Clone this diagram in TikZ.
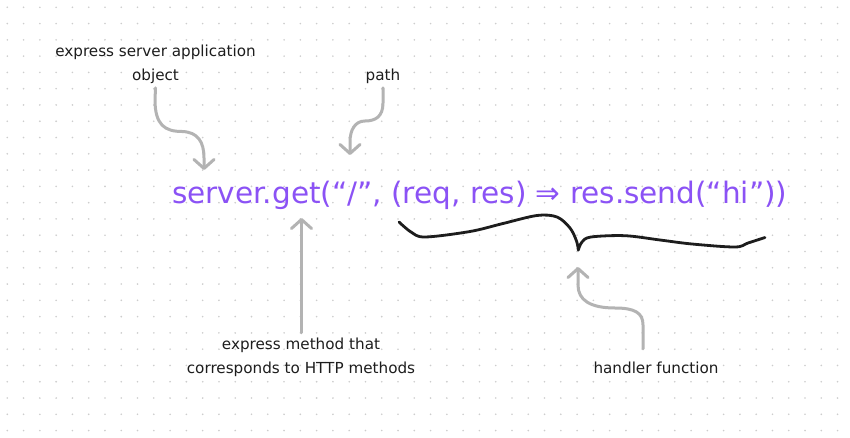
\documentclass[tikz,border=0pt]{standalone}
\usepackage{fontspec}
\setmainfont{DejaVu Sans}
\usepackage{tikz}
\usetikzlibrary{arrows.meta}
\definecolor{gridgray}{HTML}{CDCDCD}
\definecolor{inkblack}{HTML}{1D1D1D}
\definecolor{arrowgray}{HTML}{B3B3B3}
\definecolor{codeviolet}{HTML}{8B52F5}

\begin{document}
\begin{tikzpicture}[
  x=1pt, y=-1pt,
  dot/.style={fill=gridgray},
  lbl/.style={font=\fontsize{15.2}{24}\selectfont, text=inkblack, align=center, inner sep=0pt, anchor=base},
  codetxt/.style={font=\fontsize{29.5}{35}\selectfont, text=codeviolet, inner sep=0pt, anchor=base west},
  garr/.style={draw=arrowgray, line width=3pt, line cap=round, line join=round,
    -{Straight Barb[length=9pt, width=20pt, round]}},
  brace/.style={draw=inkblack, line width=2.8pt, line cap=round, line join=round}
]
  % canvas and dot grid
  \useasboundingbox[fill=white] (0,0) rectangle (850,438);
  \foreach \i in {0,...,51}
    \foreach \j in {0,...,26}
      \fill[dot] (7.3+16.28*\i, 7.3+16.28*\j) circle (0.9pt);

  % code line
  \node[codetxt] (code) at (172,203.5) {server.get(“/”, (req, res) ⇒ res.send(“hi”))};

  % labels (base = last line)
  \node[lbl] (app)     at (155.5,81)   {express server application\\object};
  \node[lbl] (path)    at (383,81)     {path};
  \node[lbl] (method)  at (301,373)    {express method that\\corresponds to HTTP methods};
  \node[lbl] (handler) at (656,373)    {handler function};

  % arrow targets
  \coordinate (objtip)  at (204,170);
  \coordinate (pathtip) at (350,155);
  \coordinate (gettip)  at (301.5,218);
  \coordinate (handtip) at (578,267);

  % gray arrows
  \draw[garr] ([yshift=-3.5pt]app.south) -- (155,100)
    .. controls (155,125) and (165,131.5) .. (182,131.5)
    .. controls (198,132) and (204,142) .. (204,158) -- (objtip);
  \draw[garr] ([yshift=-3.5pt]path.south) -- (383,103)
    .. controls (383,117) and (375,121) .. (365,121)
    .. controls (355,121) and (350,130) .. (350,142) -- (pathtip);
  \draw[garr] ([yshift=4.5pt]method.north -| gettip) -- (gettip);
  \draw[garr] ([xshift=-13pt,yshift=12.5pt]handler.north) -- (643,325)
    .. controls (643,313) and (635,308) .. (615,308)
    .. controls (590,308) and (578,300) .. (578,285) -- (handtip);

  % hand drawn brace under the handler
  \draw[brace] plot[smooth, tension=0.55] coordinates {
    (399,222) (411,232) (425,237) (470,231.5) (503,223.5) (537,215.5)
    (557,217) (570,228) (576.5,241) (578.3,250)};
  \draw[brace] plot[smooth, tension=0.55] coordinates {
    (578.3,250) (582,242) (591,237) (625,235.7) (660,240) (692,244)
    (735,247) (748,243) (765,237.5)};
\end{tikzpicture}
\end{document}
